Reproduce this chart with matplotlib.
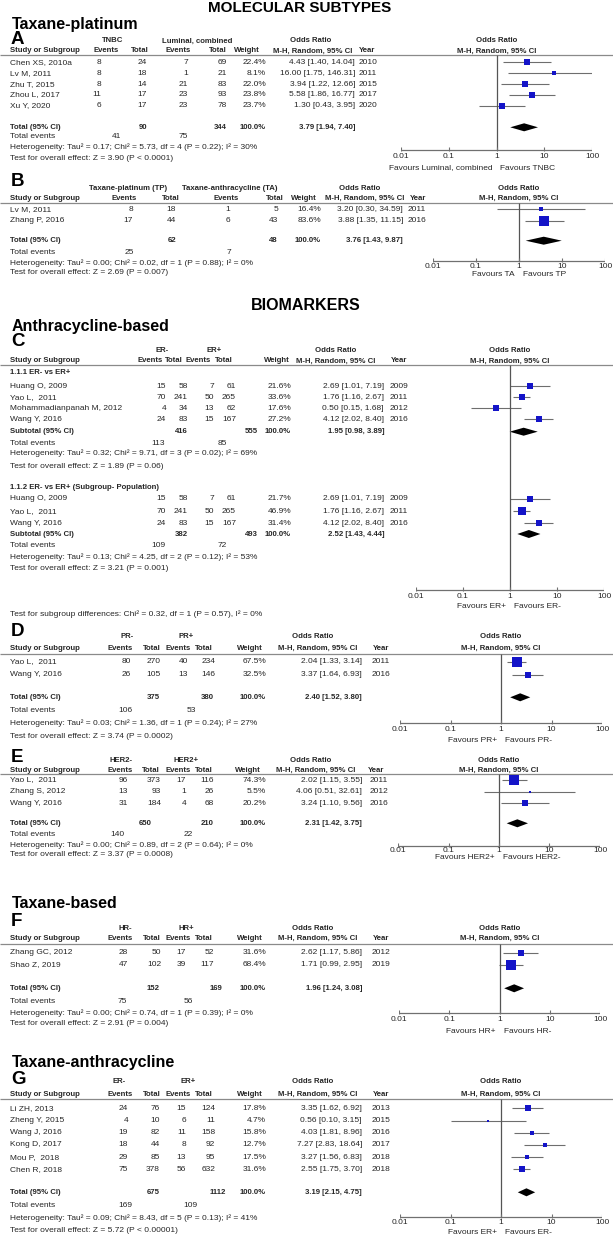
import numpy as np
import matplotlib
matplotlib.use("Agg")
import matplotlib.pyplot as plt

plt.rcParams['font.family'] = ['Liberation Sans', 'DejaVu Sans']

W, H = 613, 1239
TXT = '#262626'
BLUE = '#1414c8'
CI_COL = '#6e6e6e'
FS = 6.0      # table text
FSH = 5.6     # bold column headers

TICKS = [0.01, 0.1, 1, 10, 100]
TICK_LABELS = ['0.01', '0.1', '1', '10', '100']

# ---- panel A: TNBC vs luminal, taxane-platinum
a_study = ["Chen XS, 2010a", "Lv M, 2011", "Zhu T, 2015", "Zhou L, 2017", "Xu Y, 2020"]
a_ev1 = [8, 8, 8, 11, 6]
a_tot1 = [24, 18, 14, 17, 17]
a_ev2 = [7, 1, 21, 23, 23]
a_tot2 = [69, 21, 83, 93, 78]
a_weight = [22.4, 8.1, 22.0, 23.8, 23.7]
a_or = [4.43, 16.00, 3.94, 5.58, 1.30]
a_lo = [1.40, 1.75, 1.22, 1.86, 0.43]
a_hi = [14.04, 146.31, 12.66, 16.77, 3.95]
a_year = [2010, 2011, 2015, 2017, 2020]
a_total = [90, 344]
a_pooled = [3.79, 1.94, 7.40]
a_events = [41, 75]
a_het = "Heterogeneity: Tau² = 0.17; Chi² = 5.73, df = 4 (P = 0.22); I² = 30%"
a_test = "Test for overall effect: Z = 3.90 (P < 0.0001)"
a_favours = ["Favours Luminal, combined", "Favours TNBC"]

# ---- panel B: TP vs TA
b_study = ["Lv M, 2011", "Zhang P, 2016"]
b_ev1 = [8, 17]
b_tot1 = [18, 44]
b_ev2 = [1, 6]
b_tot2 = [5, 43]
b_weight = [16.4, 83.6]
b_or = [3.20, 3.88]
b_lo = [0.30, 1.35]
b_hi = [34.59, 11.15]
b_year = [2011, 2016]
b_total = [62, 48]
b_pooled = [3.76, 1.43, 9.87]
b_events = [25, 7]
b_het = "Heterogeneity: Tau² = 0.00; Chi² = 0.02, df = 1 (P = 0.88); I² = 0%"
b_test = "Test for overall effect: Z = 2.69 (P = 0.007)"
b_favours = ["Favours TA", "Favours TP"]

# ---- panel C: ER- vs ER+, anthracycline-based (two subgroups)
c1_study = ["Huang O, 2009", "Yao L,  2011", "Mohammadianpanah M, 2012", "Wang Y, 2016"]
c1_ev1 = [15, 70, 4, 24]
c1_tot1 = [58, 241, 34, 83]
c1_ev2 = [7, 50, 13, 15]
c1_tot2 = [61, 265, 62, 167]
c1_weight = [21.6, 33.6, 17.6, 27.2]
c1_or = [2.69, 1.76, 0.50, 4.12]
c1_lo = [1.01, 1.16, 0.15, 2.02]
c1_hi = [7.19, 2.67, 1.68, 8.40]
c1_year = [2009, 2011, 2012, 2016]
c1_total = [416, 555]
c1_pooled = [1.95, 0.98, 3.89]
c1_events = [113, 85]
c1_het = "Heterogeneity: Tau² = 0.32; Chi² = 9.71, df = 3 (P = 0.02); I² = 69%"
c1_test = "Test for overall effect: Z = 1.89 (P = 0.06)"

c2_study = ["Huang O, 2009", "Yao L,  2011", "Wang Y, 2016"]
c2_ev1 = [15, 70, 24]
c2_tot1 = [58, 241, 83]
c2_ev2 = [7, 50, 15]
c2_tot2 = [61, 265, 167]
c2_weight = [21.7, 46.9, 31.4]
c2_or = [2.69, 1.76, 4.12]
c2_lo = [1.01, 1.16, 2.02]
c2_hi = [7.19, 2.67, 8.40]
c2_year = [2009, 2011, 2016]
c2_total = [382, 493]
c2_pooled = [2.52, 1.43, 4.44]
c2_events = [109, 72]
c2_het = "Heterogeneity: Tau² = 0.13; Chi² = 4.25, df = 2 (P = 0.12); I² = 53%"
c2_test = "Test for overall effect: Z = 3.21 (P = 0.001)"
c_subgroups = ["1.1.1 ER- vs ER+", "1.1.2 ER- vs ER+ (Subgroup- Population)"]
c_diff = "Test for subgroup differences: Chi² = 0.32, df = 1 (P = 0.57), I² = 0%"
c_favours = ["Favours ER+", "Favours ER-"]

# ---- panel D: PR- vs PR+
d_study = ["Yao L,  2011", "Wang Y, 2016"]
d_ev1 = [80, 26]
d_tot1 = [270, 105]
d_ev2 = [40, 13]
d_tot2 = [234, 146]
d_weight = [67.5, 32.5]
d_or = [2.04, 3.37]
d_lo = [1.33, 1.64]
d_hi = [3.14, 6.93]
d_year = [2011, 2016]
d_total = [375, 380]
d_pooled = [2.40, 1.52, 3.80]
d_events = [106, 53]
d_het = "Heterogeneity: Tau² = 0.03; Chi² = 1.36, df = 1 (P = 0.24); I² = 27%"
d_test = "Test for overall effect: Z = 3.74 (P = 0.0002)"
d_favours = ["Favours PR+", "Favours PR-"]

# ---- panel E: HER2- vs HER2+
e_study = ["Yao L,  2011", "Zhang S, 2012", "Wang Y, 2016"]
e_ev1 = [96, 13, 31]
e_tot1 = [373, 93, 184]
e_ev2 = [17, 1, 4]
e_tot2 = [116, 26, 68]
e_weight = [74.3, 5.5, 20.2]
e_or = [2.02, 4.06, 3.24]
e_lo = [1.15, 0.51, 1.10]
e_hi = [3.55, 32.61, 9.56]
e_year = [2011, 2012, 2016]
e_total = [650, 210]
e_pooled = [2.31, 1.42, 3.75]
e_events = [140, 22]
e_het = "Heterogeneity: Tau² = 0.00; Chi² = 0.89, df = 2 (P = 0.64); I² = 0%"
e_test = "Test for overall effect: Z = 3.37 (P = 0.0008)"
e_favours = ["Favours HER2+", "Favours HER2-"]

# ---- panel F: HR- vs HR+, taxane-based
f_study = ["Zhang GC, 2012", "Shao Z, 2019"]
f_ev1 = [28, 47]
f_tot1 = [50, 102]
f_ev2 = [17, 39]
f_tot2 = [52, 117]
f_weight = [31.6, 68.4]
f_or = [2.62, 1.71]
f_lo = [1.17, 0.99]
f_hi = [5.86, 2.95]
f_year = [2012, 2019]
f_total = [152, 169]
f_pooled = [1.96, 1.24, 3.08]
f_events = [75, 56]
f_het = "Heterogeneity: Tau² = 0.00; Chi² = 0.74, df = 1 (P = 0.39); I² = 0%"
f_test = "Test for overall effect: Z = 2.91 (P = 0.004)"
f_favours = ["Favours HR+", "Favours HR-"]

# ---- panel G: ER- vs ER+, taxane-anthracycline
g_study = ["Li ZH, 2013", "Zheng Y, 2015", "Wang J, 2016", "Kong D, 2017", "Mou P,  2018", "Chen R, 2018"]
g_ev1 = [24, 4, 19, 18, 29, 75]
g_tot1 = [76, 10, 82, 44, 85, 378]
g_ev2 = [15, 6, 11, 8, 13, 56]
g_tot2 = [124, 11, 158, 92, 95, 632]
g_weight = [17.8, 4.7, 15.8, 12.7, 17.5, 31.6]
g_or = [3.35, 0.56, 4.03, 7.27, 3.27, 2.55]
g_lo = [1.62, 0.10, 1.81, 2.83, 1.56, 1.75]
g_hi = [6.92, 3.15, 8.96, 18.64, 6.83, 3.70]
g_year = [2013, 2015, 2016, 2017, 2018, 2018]
g_total = [675, 1112]
g_pooled = [3.19, 2.15, 4.75]
g_events = [169, 109]
g_het = "Heterogeneity: Tau² = 0.09; Chi² = 8.43, df = 5 (P = 0.13); I² = 41%"
g_test = "Test for overall effect: Z = 5.72 (P < 0.00001)"
g_favours = ["Favours ER+", "Favours ER-"]

H2_LABELS = ['Events', 'Total', 'Events', 'Total', 'Weight', 'M-H, Random, 95% CI', 'Year']

fig = plt.figure(figsize=(W / 100, H / 100), dpi=100)
ax = fig.add_axes([0, 0, 1, 1])
ax.set_xlim(0, W)
ax.set_ylim(H, 0)
ax.axis('off')


def txt(x, y, s, ha='left', bold=False, size=FS, color=TXT):
    ax.text(x, y, s, ha=ha, va='center', fontsize=size, color=color,
            fontweight='bold' if bold else 'normal')


def fmt_ci(o, l, h):
    return f"{o:.2f} [{l:.2f}, {h:.2f}]"


def header(L, y_letter, y1, y2, y_line):
    txt(11, y_letter, L['letter'], size=13.5, bold=True, color='black')
    for s, x in zip(L['groups'] + ['Odds Ratio'], L['h1']):
        txt(x, y1, s, 'center', True, FSH)
    fc = (L['f0'] + L['f1']) / 2
    txt(fc, y1, 'Odds Ratio', 'center', True, FSH)
    txt(10, y2, 'Study or Subgroup', bold=True, size=FSH)
    for s, x in zip(H2_LABELS, L['h2']):
        txt(x, y2, s, 'center', True, FSH)
    txt(fc, y2, 'M-H, Random, 95% CI', 'center', True, FSH)
    ax.hlines(y_line, 0, W, color='#8a8a8a', lw=0.9)


def forest(L):
    fax = fig.add_axes([L['f0'] / W, 0, (L['f1'] - L['f0']) / W, 1])
    fax.set_xscale('log')
    fax.set_xlim(0.01, 100)
    fax.set_ylim(H, 0)
    fax.axis('off')
    return fax


def rows(L, fax, y0, step, study, ev1, tot1, ev2, tot2, w, o, lo, hi, yr):
    c = L['cols']
    for i in range(len(study)):
        y = y0 + step * i
        txt(10, y, study[i])
        txt(c[0], y, str(ev1[i]), 'right')
        txt(c[1], y, str(tot1[i]), 'right')
        txt(c[2], y, str(ev2[i]), 'right')
        txt(c[3], y, str(tot2[i]), 'right')
        txt(c[4], y, f"{w[i]:.1f}%", 'right')
        txt(c[5], y, fmt_ci(o[i], lo[i], hi[i]), 'right')
        txt(c[6], y, str(yr[i]), 'center')
        fax.hlines(y, lo[i], hi[i], color=CI_COL, lw=0.8)
        fax.plot(o[i], y, 's', ms=max(1.5, 0.86 * np.sqrt(w[i])), color=BLUE, mew=0)


def pooled(L, fax, y, label, tot, est):
    c = L['cols']
    txt(10, y, label, bold=True, size=FSH)
    txt(L['sums'][0], y, str(tot[0]), 'right', True, FSH)
    txt(L['sums'][1], y, str(tot[1]), 'right', True, FSH)
    txt(c[4], y, '100.0%', 'right', True, FSH)
    txt(c[5], y, fmt_ci(*est), 'right', True, FSH)
    o, l, h = est
    fax.fill([l, o, h, o], [y, y - 4, y, y + 4], color='black', lw=0)


def summary(L, y_ev, y_het, y_test, events, het, test):
    txt(10, y_ev, 'Total events')
    txt(L['ev'][0], y_ev, str(events[0]), 'center')
    txt(L['ev'][1], y_ev, str(events[1]), 'center')
    txt(10, y_het, het)
    txt(10, y_test, test)


def frame(L, fax, y_top, y_axis, y_lab, y_fav, favours):
    fax.vlines(1, y_top, y_axis, color='#555555', lw=0.9)
    fax.hlines(y_axis, 0.01, 100, color='#707070', lw=0.9)
    fax.vlines(TICKS, y_axis - 3, y_axis + 1, color='#707070', lw=0.8)
    for t, s in zip(TICKS, TICK_LABELS):
        fax.text(t, y_lab, s, ha='center', va='center', fontsize=FS, color=TXT)
    fc = (L['f0'] + L['f1']) / 2
    txt(fc - 4, y_fav, favours[0], 'right')
    txt(fc + 4, y_fav, favours[1], 'left')


H2_D = [120, 152, 178, 204, 250, 318, 381]
LA = dict(letter='A', groups=['TNBC', 'Luminal, combined'], h1=[113, 197, 311],
          h2=[106, 140, 178, 218, 247, 313, 367], cols=[101, 147, 188, 227, 266, 355, 368],
          sums=[147, 227], ev=[117, 183], f0=401, f1=592)
LB = dict(letter='B', groups=['Taxane-platinum (TP)', 'Taxane-anthracycline (TA)'], h1=[128, 230, 360],
          h2=[124, 171, 226, 275, 304, 365, 418], cols=[133, 176, 230, 278, 321, 403, 417],
          sums=[176, 278], ev=[129, 229], f0=433, f1=605)
LC = dict(letter='C', groups=['ER-', 'ER+'], h1=[162, 214, 336],
          h2=[150, 174, 198, 224, 277, 336, 399], cols=[166, 188, 214, 236, 291, 384, 399],
          sums=[188, 258], ev=[158, 222], f0=416, f1=604)
LD = dict(letter='D', groups=['PR-', 'PR+'], h1=[127, 186, 313], h2=H2_D,
          cols=[131, 161, 188, 215, 266, 362, 381], sums=[160, 214], ev=[125, 191], f0=400, f1=602)
LE = dict(letter='E', groups=['HER2-', 'HER2+'], h1=[121, 186, 311], h2=[120, 151, 178, 204, 248, 316, 376],
          cols=[128, 161, 186, 214, 266, 362, 379], sums=[152, 214], ev=[117, 188], f0=398, f1=600)
LF = dict(letter='F', groups=['HR-', 'HR+'], h1=[125, 186, 313], h2=H2_D,
          cols=[128, 161, 186, 214, 266, 362, 381], sums=[160, 222], ev=[122, 188], f0=399, f1=600)
LG = dict(letter='G', groups=['ER-', 'ER+'], h1=[119, 188, 313], h2=H2_D,
          cols=[128, 160, 186, 215, 266, 362, 381], sums=[160, 226], ev=[125, 190], f0=400, f1=602)

# section titles
txt(300, 7.5, 'MOLECULAR SUBTYPES', 'center', True, 11, 'black')
txt(12, 25, 'Taxane-platinum', bold=True, size=11.5, color='black')
txt(306, 305, 'BIOMARKERS', 'center', True, 11.5, 'black')
txt(12, 327, 'Anthracycline-based', bold=True, size=11.5, color='black')
txt(12, 903, 'Taxane-based', bold=True, size=11.5, color='black')
txt(12, 1063, 'Taxane-anthracycline', bold=True, size=11.5, color='black')

# A
fa = forest(LA)
header(LA, 39, 41, 51, 54.5)
rows(LA, fa, 62.3, 10.9, a_study, a_ev1, a_tot1, a_ev2, a_tot2, a_weight, a_or, a_lo, a_hi, a_year)
pooled(LA, fa, 127.3, 'Total (95% CI)', a_total, a_pooled)
summary(LA, 136.7, 146.7, 158, a_events, a_het, a_test)
frame(LA, fa, 54.5, 149.5, 157, 168, a_favours)

# B
fb = forest(LB)
header(LB, 181, 188, 198, 202.7)
rows(LB, fb, 209.3, 11.7, b_study, b_ev1, b_tot1, b_ev2, b_tot2, b_weight, b_or, b_lo, b_hi, b_year)
pooled(LB, fb, 240.7, 'Total (95% CI)', b_total, b_pooled)
summary(LB, 252.7, 262.7, 272.7, b_events, b_het, b_test)
frame(LB, fb, 202.7, 260.5, 266.7, 274.5, b_favours)

# C
fcx = forest(LC)
header(LC, 342, 351, 361, 365)
txt(10, 372, c_subgroups[0], bold=True, size=FSH)
rows(LC, fcx, 386, 11.1, c1_study, c1_ev1, c1_tot1, c1_ev2, c1_tot2, c1_weight, c1_or, c1_lo, c1_hi, c1_year)
pooled(LC, fcx, 431.7, 'Subtotal (95% CI)', c1_total, c1_pooled)
summary(LC, 443.3, 453.3, 467, c1_events, c1_het, c1_test)
txt(10, 487.3, c_subgroups[1], bold=True, size=FSH)
rows(LC, fcx, 499, 12.2, c2_study, c2_ev1, c2_tot1, c2_ev2, c2_tot2, c2_weight, c2_or, c2_lo, c2_hi, c2_year)
pooled(LC, fcx, 534, 'Subtotal (95% CI)', c2_total, c2_pooled)
summary(LC, 545.7, 556.7, 568.3, c2_events, c2_het, c2_test)
frame(LC, fcx, 365, 589.5, 596.5, 607, c_favours)
txt(10, 614.5, c_diff)

# D
fd = forest(LD)
header(LD, 632, 636, 648, 654)
rows(LD, fd, 661.7, 13.3, d_study, d_ev1, d_tot1, d_ev2, d_tot2, d_weight, d_or, d_lo, d_hi, d_year)
pooled(LD, fd, 697.3, 'Total (95% CI)', d_total, d_pooled)
summary(LD, 710, 723.3, 736, d_events, d_het, d_test)
frame(LD, fd, 654, 723.3, 729.5, 741, d_favours)

# E
fe = forest(LE)
header(LE, 757, 760, 770, 774)
rows(LE, fe, 780, 11.7, e_study, e_ev1, e_tot1, e_ev2, e_tot2, e_weight, e_or, e_lo, e_hi, e_year)
pooled(LE, fe, 823.3, 'Total (95% CI)', e_total, e_pooled)
summary(LE, 835, 845, 855, e_events, e_het, e_test)
frame(LE, fe, 774, 845.7, 851, 857.5, e_favours)

# F
ff = forest(LF)
header(LF, 922, 928, 938.3, 944)
rows(LF, ff, 952.7, 12.3, f_study, f_ev1, f_tot1, f_ev2, f_tot2, f_weight, f_or, f_lo, f_hi, f_year)
pooled(LF, ff, 988.3, 'Total (95% CI)', f_total, f_pooled)
summary(LF, 1001.7, 1013.3, 1023.3, f_events, f_het, f_test)
frame(LF, ff, 944, 1013.3, 1019.5, 1031.7, f_favours)

# G
fg = forest(LG)
header(LG, 1080, 1081.7, 1094, 1099.3)
rows(LG, fg, 1108.3, 12.2, g_study, g_ev1, g_tot1, g_ev2, g_tot2, g_weight, g_or, g_lo, g_hi, g_year)
pooled(LG, fg, 1192.3, 'Total (95% CI)', g_total, g_pooled)
summary(LG, 1205.7, 1217.7, 1230, g_events, g_het, g_test)
frame(LG, fg, 1099.3, 1216.7, 1223, 1232, g_favours)

fig.savefig('out.png', dpi=100)
